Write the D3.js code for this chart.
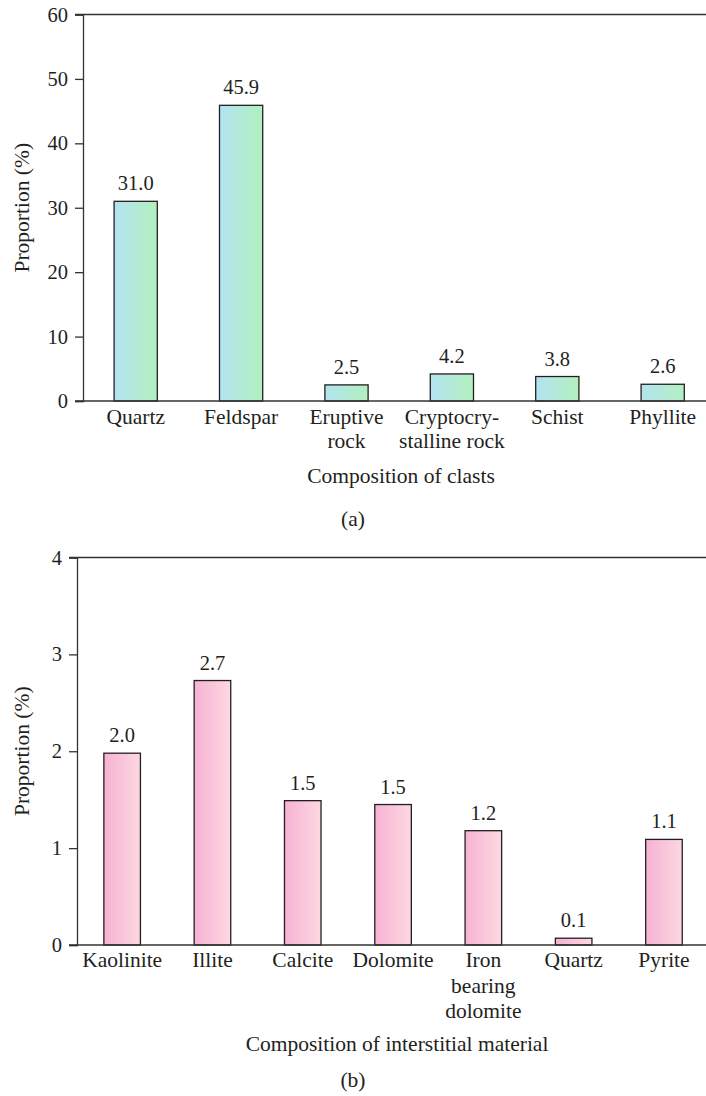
<!DOCTYPE html>
<html lang="en">
<head>
<meta charset="utf-8">
<title>Composition charts</title>
<script src="https://cdn.jsdelivr.net/npm/d3@7"></script>
<style>
  html, body { margin: 0; padding: 0; background: #fff; }
  svg { display: block; }
  text { font-family: "Liberation Serif", "Times New Roman", serif; fill: #231f20; }
</style>
</head>
<body>
<script>
// chart (a) data
const clastNames = [["Quartz"], ["Feldspar"], ["Eruptive", "rock"], ["Cryptocry-", "stalline rock"], ["Schist"], ["Phyllite"]];
const clastValues = [31.0, 45.9, 2.5, 4.2, 3.8, 2.6];
const clastTicks = [0, 10, 20, 30, 40, 50, 60];

// chart (b) data
const matNames = [["Kaolinite"], ["Illite"], ["Calcite"], ["Dolomite"], ["Iron", "bearing", "dolomite"], ["Quartz"], ["Pyrite"]];
const matValues = [1.98, 2.73, 1.49, 1.45, 1.18, 0.07, 1.09];
const matLabels = ["2.0", "2.7", "1.5", "1.5", "1.2", "0.1", "1.1"];
const matTicks = [0, 1, 2, 3, 4];

const W = 706, H = 1096;
const fsNum = 20.5;   // numbers
const fsText = 21.5;  // words

const svg = d3.select("body").append("svg")
  .attr("width", W).attr("height", H);

const defs = svg.append("defs");
function grad(id, c1, c2) {
  const g = defs.append("linearGradient").attr("id", id)
    .attr("x1", "0%").attr("x2", "100%").attr("y1", "0%").attr("y2", "0%");
  g.append("stop").attr("offset", "0%").attr("stop-color", c1);
  g.append("stop").attr("offset", "100%").attr("stop-color", c2);
}
grad("gA", "#b3e3f1", "#b2f0bf");
grad("gB", "#f7b2d4", "#fdd8e0");

function drawChart(o) {
  const g = svg.append("g");
  const x = d3.scaleBand()
    .domain(o.names.map((d, i) => i))
    .range([o.left, o.left + o.step * o.names.length]);
  const y = d3.scaleLinear().domain([0, o.max]).range([o.bottom, o.top]);
  const bw = o.step * o.barFrac;

  // top line
  g.append("line")
    .attr("x1", o.left - 8).attr("x2", W)
    .attr("y1", y(o.max)).attr("y2", y(o.max))
    .attr("stroke", "#333").attr("stroke-width", 1.3);

  // y axis
  const yAxis = g.append("g")
    .attr("transform", `translate(${o.left},0)`)
    .call(d3.axisLeft(y).tickValues(o.ticks).tickSize(8).tickPadding(7).tickFormat(d3.format("d")));
  yAxis.select(".domain").attr("stroke", "#333").attr("stroke-width", 1.3);
  yAxis.selectAll(".tick line").attr("stroke", "#333").attr("stroke-width", 1.3);
  yAxis.selectAll(".tick text").attr("font-size", fsNum).attr("font-family", "Liberation Serif").attr("fill", "#231f20");

  // bars
  g.selectAll("rect.bar").data(o.values).enter().append("rect")
    .attr("class", "bar")
    .attr("x", (d, i) => x(i) + x.bandwidth() / 2 - bw / 2)
    .attr("width", bw)
    .attr("y", d => y(d))
    .attr("height", d => y(0) - y(d))
    .attr("fill", `url(#${o.grad})`)
    .attr("stroke", "#231f20").attr("stroke-width", 1.3);

  // x baseline
  g.append("line")
    .attr("x1", o.left - 8).attr("x2", W)
    .attr("y1", y(0)).attr("y2", y(0))
    .attr("stroke", "#333").attr("stroke-width", 1.3);

  // value labels
  g.selectAll("text.val").data(o.values).enter().append("text")
    .attr("class", "val")
    .attr("x", (d, i) => x(i) + x.bandwidth() / 2)
    .attr("y", d => y(d) - 11)
    .attr("text-anchor", "middle").attr("font-size", fsNum)
    .text((d, i) => o.labels[i]);

  // category labels
  const cat = g.selectAll("text.cat").data(o.names).enter().append("text")
    .attr("class", "cat")
    .attr("x", (d, i) => x(i) + x.bandwidth() / 2)
    .attr("y", y(0) + o.catGap)
    .attr("text-anchor", "middle").attr("font-size", fsText);
  cat.each(function (d, i) {
    const t = d3.select(this);
    d.forEach((line, k) => {
      t.append("tspan")
        .attr("x", x(i) + x.bandwidth() / 2)
        .attr("dy", k === 0 ? 0 : o.lineH)
        .text(line);
    });
  });

  // axis titles
  g.append("text")
    .attr("transform", `translate(29,${(y(0) + y(o.max)) / 2}) rotate(-90)`)
    .attr("text-anchor", "middle").attr("font-size", fsText)
    .text("Proportion (%)");
  g.append("text")
    .attr("x", o.titleX).attr("y", o.titleY)
    .attr("text-anchor", "middle").attr("font-size", fsText)
    .text(o.title);
  g.append("text")
    .attr("x", W / 2).attr("y", o.panelY)
    .attr("text-anchor", "middle").attr("font-size", fsText)
    .text(o.panel);
}

drawChart({
  names: clastNames, values: clastValues, labels: clastValues.map(d => d.toFixed(1)),
  ticks: clastTicks, max: 60, left: 83, step: 105.4, barFrac: 0.41,
  top: 14.5, bottom: 401, grad: "gA", catGap: 23, lineH: 24,
  title: "Composition of clasts", titleX: 401, titleY: 483,
  panel: "(a)", panelY: 526
});

drawChart({
  names: matNames, values: matValues, labels: matLabels,
  ticks: matTicks, max: 4, left: 77, step: 90.3, barFrac: 0.405,
  top: 557.5, bottom: 945, grad: "gB", catGap: 22, lineH: 25.5,
  title: "Composition of interstitial material", titleX: 397, titleY: 1051,
  panel: "(b)", panelY: 1087
});
</script>
</body>
</html>
